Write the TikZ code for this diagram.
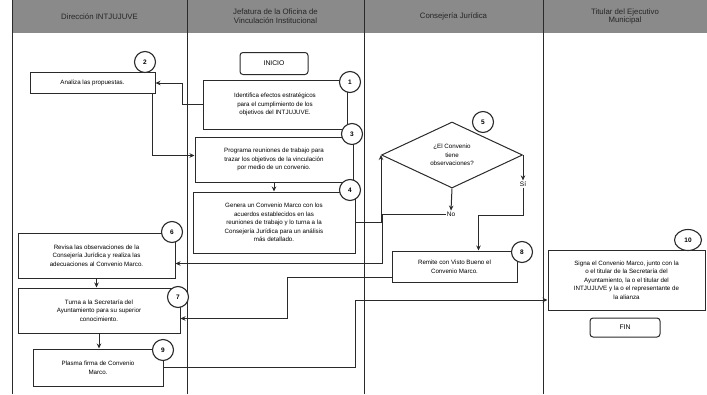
\documentclass[tikz,border=0pt]{standalone}
\usepackage{fontspec}
\setmainfont{Liberation Sans}
\usetikzlibrary{arrows.meta,shapes.geometric}
\definecolor{LaneGray}{HTML}{8A8A8A}
\definecolor{InkGray}{HTML}{2A2A2A}
\tikzset{
  proc/.style={draw=InkGray,line width=1pt,rectangle,align=center,inner sep=2pt,
    font=\fontsize{6.2}{8.6}\selectfont},
  term/.style={proc,rounded corners=3pt,font=\fontsize{6.8}{8}\selectfont},
  num/.style={draw=InkGray,line width=1.1pt,circle,fill=white,inner sep=0pt,minimum size=21pt,
    font=\fontsize{6.5}{7}\selectfont\bfseries},
  flow/.style={draw=InkGray,line width=1pt,-{Stealth[length=5pt,width=4.5pt]}},
  lbl/.style={font=\fontsize{6.5}{7}\selectfont,inner sep=1pt,fill=white}
}
\begin{document}
\begin{tikzpicture}[x=1pt,y=-1pt]
\useasboundingbox (0,0) rectangle (707,394);
\fill[LaneGray] (12,0) rectangle (707,33);
\foreach \x in {12,187,364,543} {
  \draw[InkGray,line width=1pt] (\x,0) -- (\x,394);
}
\foreach \x/\t in {99.5/{Dirección INTJUJUVE},275.5/{Jefatura de la Oficina de\\Vinculación Institucional},
  453.5/{Consejería Jurídica},625/{Titular del Ejecutivo\\Municipal}} {
  \node[align=center,text=black!85,font=\fontsize{7.8}{8.8}\selectfont] at (\x,16.5) {\t};
}

\node[term,minimum width=68pt,minimum height=22pt] (inicio) at (274,63.5) {INICIO};
\node[proc,minimum width=144pt,minimum height=49pt] (b1) at (275,104.5)
  {Identifica efectos estratégicos\\para el cumplimiento de los\\objetivos del INTJUJUVE.};
\node[proc,minimum width=125pt,minimum height=21pt] (b2) at (92.5,83) {Analiza las propuestas.};
\node[proc,minimum width=158pt,minimum height=45pt] (b3) at (274,159.5)
  {Programa reuniones de trabajo para\\trazar los objetivos de la vinculación\\por medio de un convenio.};
\node[proc,minimum width=162pt,minimum height=61pt] (b4) at (274,222.5)
  {Genera un Convenio Marco con los\\acuerdos establecidos en las\\reuniones de trabajo y lo turna a la\\Consejería Jurídica para un análisis\\más detallado.};
\node[proc,diamond,aspect=2.14,inner sep=0pt,minimum width=141pt,minimum height=66pt] (d5) at (452,155)
  {¿El Convenio\\tiene\\observaciones?};
\node[proc,minimum width=157pt,minimum height=45pt] (b6) at (96.5,255.5)
  {Revisa las observaciones de la\\Consejería Jurídica y realiza las\\adecuaciones al Convenio Marco.};
\node[proc,minimum width=162pt,minimum height=45pt] (b7) at (99,310.5)
  {Turna a la Secretaría del\\Ayuntamiento para su superior\\conocimiento.};
\node[proc,minimum width=125pt,minimum height=31pt] (b8) at (454.5,266.5)
  {Remite con Visto Bueno el\\Convenio Marco.};
\node[proc,minimum width=130pt,minimum height=37pt] (b9) at (98,367.5)
  {Plasma firma de Convenio\\Marco.};
\node[proc,minimum width=157pt,minimum height=60pt] (b10) at (626.5,280)
  {Signa el Convenio Marco, junto con la\\o el titular de la Secretaría del\\Ayuntamiento, la o el titular del\\INTJUJUVE y la o el representante de\\la alianza};
\node[term,minimum width=70pt,minimum height=19pt] (fin) at (625,327.5) {FIN};

\node[lbl] (no) at (451,214) {No};
\node[lbl] (si) at (523,184) {Sí};

\node[num] (n1) at (350,82) {1};
\node[num] (n2) at (145,62) {2};
\node[num] (n3) at (352,134) {3};
\node[num] (n4) at (350,190) {4};
\node[num] (n5) at (483,122) {5};
\node[num] (n6) at (172,232) {6};
\node[num] (n7) at (178,297) {7};
\node[num] (n8) at (522,252) {8};
\node[num] (n9) at (163,350) {9};
\node[num,ellipse,minimum width=27pt,minimum height=21pt] (n10) at (688,240) {10};

\draw[flow] (b1.west) -- (182,104.5) |- (b2.east);
\draw[flow] ([xshift=-3pt]b2.south east) |- ([yshift=4pt]b3.west);
\draw[flow] (b3.south) -- (b4.north);
\draw[flow] (b4.east) -| (d5.west);
\draw[flow] (d5.south) -- (no.north);
\draw[flow] (no.west) -- ++(-63,0) |- ([yshift=-8pt]b6.east);
\draw[flow] (d5.east) -- (si.north);
\draw[flow] (si.south) -- ++(0,28) -| ([xshift=24pt]b8.north);
\draw[flow] ([yshift=-11pt]b8.west) -- (287,277.5) |- ([yshift=-8pt]b7.east);
\draw[flow] (b6.south) -- (b6.south |- b7.north);
\draw[flow] (b7.south) -- (b7.south |- b9.north);
\draw[flow] (b9.east) -- ++(192,0) |- ([yshift=-20pt]b10.west);
\end{tikzpicture}
\end{document}
